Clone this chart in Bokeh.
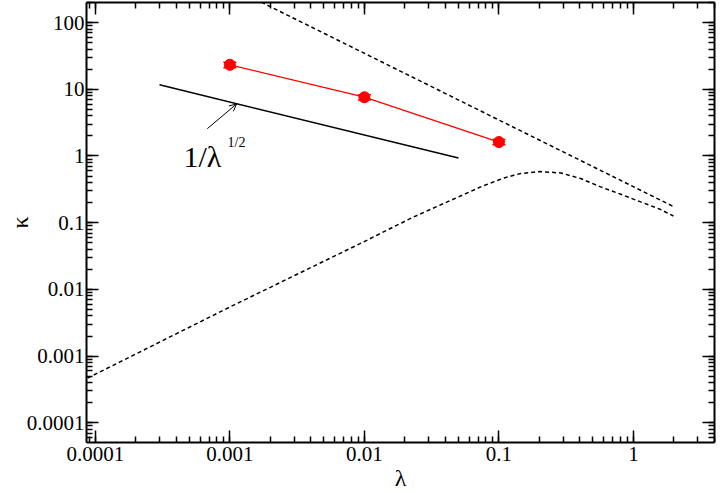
from bokeh.plotting import figure
from bokeh.models import (LogAxis, LogTicker, CustomJSTickFormatter, Label, Arrow,
                          OpenHead, Whisker, TeeHead, ColumnDataSource)
from bokeh.embed import file_html
from bokeh.resources import INLINE

# ---- data ----
lam_pts = [0.001, 0.01, 0.1]
kappa_pts = [23.3, 7.6, 1.62]
kappa_err = [2.2, 0.7, 0.15]

ref_x = [3.0e-4, 0.05]
ref_y = [11.7, 0.93]

upper_x = [0.001, 2.0]
upper_y = [346.0, 0.173]

lower_x = [8.75e-5, 1.01e-3, 0.0105, 0.0132, 0.0233, 0.0413, 0.0731, 0.109, 0.129,
           0.145, 0.2, 0.288, 0.405, 0.570, 0.804, 1.13, 1.59, 1.98]
lower_y = [4.68e-4, 5.5e-3, 0.0548, 0.0693, 0.1225, 0.205, 0.344, 0.469, 0.514,
           0.546, 0.585, 0.557, 0.459, 0.344, 0.267, 0.205, 0.158, 0.126]

arrow_start = (6.8e-4, 2.57)
arrow_end = (1.12e-3, 6.0)

FONT = "Liberation Serif"

p = figure(width=720, height=493, x_axis_type="log", y_axis_type="log",
           x_range=(8.6e-5, 4.0), y_range=(5.07e-5, 200.0),
           output_backend="svg", toolbar_location=None,
           min_border_left=86, min_border_right=6, min_border_top=2,
           min_border_bottom=50)
p.outline_line_color = None
p.xgrid.visible = False
p.ygrid.visible = False
p.background_fill_color = "white"
p.border_fill_color = "white"

bottom_ax = p.below[0]
left_ax = p.left[0]

fmt = CustomJSTickFormatter(code="return Number(tick.toPrecision(6)).toString();")
blank = CustomJSTickFormatter(code="return '';")

top_ax = LogAxis(axis_label=None)
right_ax = LogAxis(axis_label=None)
p.add_layout(top_ax, "above")
p.add_layout(right_ax, "right")

for ax in [bottom_ax, left_ax, top_ax, right_ax]:
    ax.ticker = LogTicker(num_minor_ticks=10)
    ax.axis_line_width = 2
    ax.axis_line_color = "black"
    ax.major_tick_in = 12
    ax.major_tick_out = 0
    ax.minor_tick_in = 6
    ax.minor_tick_out = 0
    ax.major_tick_line_width = 1.5
    ax.minor_tick_line_width = 1.5
    ax.major_tick_line_color = "black"
    ax.minor_tick_line_color = "black"

for ax in [bottom_ax, left_ax]:
    ax.formatter = fmt
    ax.major_label_text_font = FONT
    ax.major_label_text_font_size = "21px"
    ax.major_label_text_color = "black"
    ax.axis_label_text_font = FONT
    ax.axis_label_text_font_size = "24px"
    ax.axis_label_text_font_style = "normal"
    ax.axis_label_text_color = "black"
bottom_ax.major_label_standoff = 4
left_ax.major_label_standoff = 2
bottom_ax.axis_label = "λ"
left_ax.axis_label = "κ"
bottom_ax.axis_label_standoff = 1
left_ax.axis_label_standoff = -9

for ax in [top_ax, right_ax]:
    ax.formatter = blank
    ax.major_label_text_font_size = "1px"
    ax.major_label_standoff = 0
    ax.axis_label_standoff = 0

# curves
p.line(upper_x, upper_y, line_color="black", line_width=1.5, line_dash="4 3")
p.line(lower_x, lower_y, line_color="black", line_width=1.5, line_dash="4 3")
p.line(ref_x, ref_y, line_color="black", line_width=1.5)
p.line(lam_pts, kappa_pts, line_color="red", line_width=1.3)

src = ColumnDataSource(dict(x=lam_pts, y=kappa_pts,
                            upper=[k + e for k, e in zip(kappa_pts, kappa_err)],
                            lower=[k - e for k, e in zip(kappa_pts, kappa_err)]))
wh = Whisker(base="x", upper="upper", lower="lower", source=src, dimension="height",
             line_color="red", line_width=1.5,
             upper_head=TeeHead(size=13, line_color="red", line_width=1.5),
             lower_head=TeeHead(size=13, line_color="red", line_width=1.5))
p.add_layout(wh)
p.scatter("x", "y", source=src, size=11, fill_color="red", line_color="red")

p.add_layout(Arrow(x_start=arrow_start[0], y_start=arrow_start[1],
                   x_end=arrow_end[0], y_end=arrow_end[1],
                   line_color="black", line_width=1,
                   end=OpenHead(size=7, line_color="black", line_width=1)))

# annotation text
p.add_layout(Label(x=97, y=443 - 157, x_units="screen", y_units="screen",
                   text="1/λ", text_font=FONT, text_font_size="30px",
                   text_baseline="alphabetic", text_align="left", text_color="black"))
p.add_layout(Label(x=141, y=443 - 143, x_units="screen", y_units="screen",
                   text="1/2", text_font=FONT, text_font_size="14px",
                   text_baseline="alphabetic", text_align="left", text_color="black"))

open("out.html", "w").write(file_html(p, INLINE))
